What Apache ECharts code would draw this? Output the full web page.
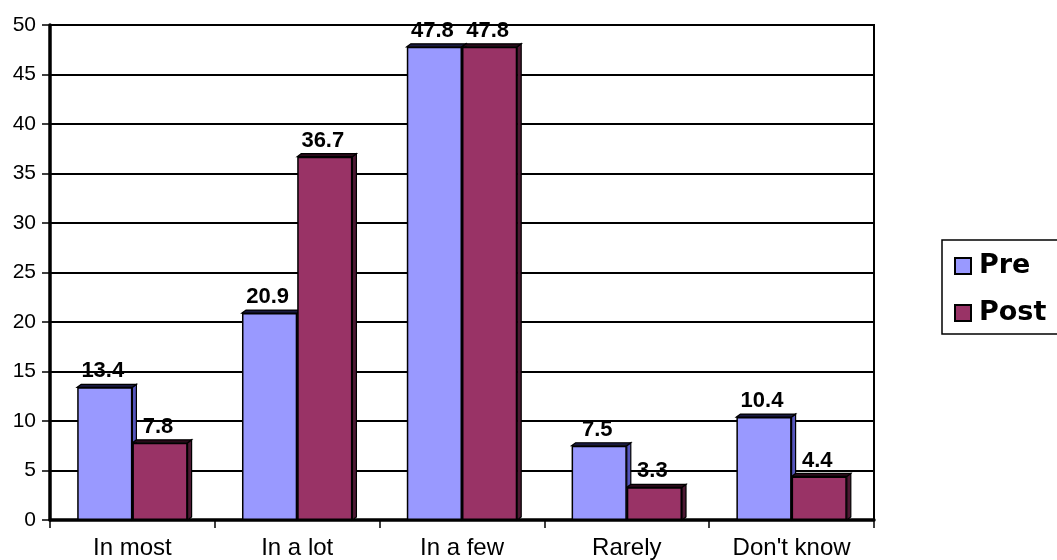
<!DOCTYPE html>
<html><head><meta charset="utf-8">
<script src="https://cdn.jsdelivr.net/npm/echarts@6/dist/echarts.min.js"></script>
<style>html,body{margin:0;padding:0;background:#fff}#c{width:1057px;height:560px}</style>
</head><body><div id="c"></div>
<script>
const categories = ["In most", "In a lot", "In a few", "Rarely", "Don't know"];
const preValues = [13.4, 20.9, 47.8, 7.5, 10.4];
const postValues = [7.8, 36.7, 47.8, 3.3, 4.4];
const seriesNames = ["Pre", "Post"];
const yTicks = {min: 0, max: 50, interval: 5};

const font = "Arial, 'Liberation Sans', sans-serif";
const chart = echarts.init(document.getElementById('c'), null, {renderer: 'canvas'});
const GAP = 0.33;
function barSeries(name, data, color) {
  return {
    name: name, type: 'bar', data: data, z: 3,
    barGap: '0%', barCategoryGap: (GAP * 100) + '%',
    itemStyle: {color: color, borderColor: '#000', borderWidth: 1.5},
    label: {show: true, position: 'top', distance: 5, offset: [-2, 0], color: '#000',
      fontFamily: font, fontWeight: 'bold', fontSize: 22},
    emphasis: {disabled: true}
  };
}
function depthSeries(idx, data, sideColor, topColor) {
  return {
    type: 'custom', z: 1, silent: true, legendHoverLink: false,
    data: data.map((v, i) => [i, v]),
    encode: {x: 0, y: 1},
    renderItem: function (params, api) {
      const i = api.value(0), v = api.value(1);
      const band = api.size([1, 0])[0];
      const bw = band * (1 - GAP) / 2;
      const c = api.coord([i, 0]);
      const top = api.coord([i, v])[1];
      const bot = c[1];
      const x0 = c[0] + (idx === 0 ? -bw : 0);
      const x1 = x0 + bw;
      const d = 4, dy = 3;
      return {type: 'group', children: [
        {type: 'polygon', shape: {points: [[x1, top], [x1 + d, top - dy], [x1 + d, bot - dy], [x1, bot]]},
          style: {fill: sideColor, stroke: '#000', lineWidth: 1.2}},
        {type: 'polygon', shape: {points: [[x0, top], [x0 + d, top - dy], [x1 + d, top - dy], [x1, top]]},
          style: {fill: topColor, stroke: '#000', lineWidth: 1.2}}
      ]};
    }
  };
}
chart.setOption({
  animation: false,
  grid: {left: 50, right: 183, top: 25, bottom: 40, show: true, borderColor: '#000', borderWidth: 2},
  legend: {
    orient: 'vertical', left: 942, top: 240, data: seriesNames,
    borderColor: '#000', borderWidth: 1.5, padding: [11, 30, 6, 12],
    itemWidth: 16, itemHeight: 16, itemGap: 17, icon: 'rect',
    itemStyle: {borderColor: '#000', borderWidth: 2},
    textStyle: {fontFamily: "'DejaVu Sans', sans-serif", fontWeight: 'bold', fontSize: 27, lineHeight: 30,
      color: '#000', padding: [0, 0, 0, 3]}
  },
  xAxis: {
    type: 'category', data: categories,
    axisLine: {lineStyle: {color: '#000', width: 3.5}},
    axisTick: {show: true, alignWithLabel: false, length: 8, lineStyle: {color: '#000', width: 1.5}},
    axisLabel: {color: '#000', fontFamily: font, fontSize: 24, margin: 16}
  },
  yAxis: {
    type: 'value', min: yTicks.min, max: yTicks.max, interval: yTicks.interval,
    axisLine: {show: true, lineStyle: {color: '#000', width: 3.5}},
    axisTick: {show: true, length: 8, lineStyle: {color: '#000', width: 1.5}},
    axisLabel: {color: '#000', fontFamily: font, fontSize: 21, margin: 14},
    splitLine: {lineStyle: {color: '#000', width: 2}}
  },
  series: [
    barSeries(seriesNames[0], preValues, '#9999FF'),
    barSeries(seriesNames[1], postValues, '#993366'),
    depthSeries(0, preValues, '#5555bb', '#1a1a40'),
    depthSeries(1, postValues, '#4d1933', '#2a0a1a')
  ]
});
</script></body></html>
